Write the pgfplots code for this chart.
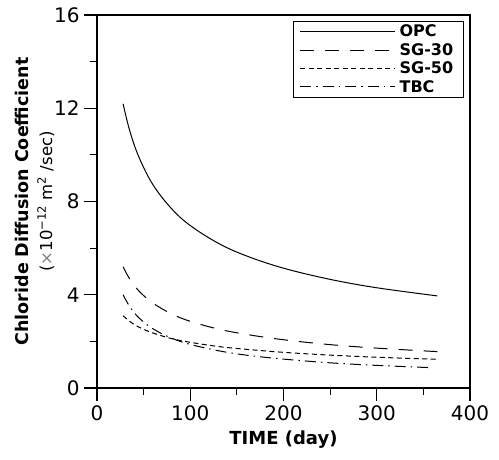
\documentclass[border=0pt]{standalone}
\usepackage{pgfplots}
\pgfplotsset{compat=1.18}
\usepackage{fontspec}
\setmainfont{DejaVu Sans}
\begin{document}
\begin{tikzpicture}
\begin{axis}[
    scale only axis,
    width=373bp, height=373bp,
    xmin=0, xmax=400,
    ymin=0, ymax=16,
    xtick={0,100,200,300,400},
    ytick={0,4,8,12,16},
    minor tick num=1,
    xtick pos=bottom, ytick pos=left,
    tick align=outside,
    major tick length=13bp,
    minor tick length=7bp,
    every tick/.style={black, line width=1.2pt},
    axis line style={line width=1.2pt},
    /pgf/number format/assume math mode=true,
    tick label style={font=\fontsize{20bp}{24bp}\selectfont},
    yticklabel style={xshift=-1bp},
    xticklabel style={yshift=-1bp},
    xlabel={\textbf{TIME (day)}},
    xlabel style={font=\fontsize{18bp}{21bp}\selectfont, yshift=-3bp},
    ylabel={{\fontsize{17.5bp}{20bp}\selectfont\textbf{Chloride Diffusion Coefficient}}\\[7bp]{\fontsize{16.5bp}{18bp}\selectfont(\textcolor{gray}{×}10\textsuperscript{−12} m\textsuperscript{2} /sec)}},
    ylabel style={align=center, yshift=-7bp},
    legend cell align=left,
    legend style={font=\bfseries\fontsize{16bp}{18bp}\selectfont, draw=black, line width=1pt,
        at={(0.983,0.985)}, anchor=north east, inner xsep=6bp, inner ysep=2bp, row sep=1bp,
        nodes={inner xsep=4bp, inner ysep=2bp}},
    legend image code/.code={\draw[#1, line width=1pt] (0bp,0bp) -- (95bp,0bp);},
    every axis plot/.append style={smooth, tension=0.6},
]
\addplot[black, line width=1pt] coordinates {
    (28,12.19)(35,11.05)(45,9.90)(60,8.72)(80,7.69)(100,6.97)(130,6.21)
    (160,5.67)(200,5.14)(250,4.66)(300,4.30)(365,3.95)
};
\addlegendentry{OPC}
\addplot[black, line width=1pt, dash pattern=on 14bp off 11bp] coordinates {
    (28,5.20)(35,4.68)(45,4.16)(60,3.64)(80,3.18)(100,2.86)(130,2.53)
    (160,2.30)(200,2.07)(250,1.86)(300,1.71)(365,1.56)
};
\addlegendentry{SG-30}
\addplot[black, line width=1pt, dash pattern=on 5bp off 3.5bp] coordinates {
    (28,3.10)(35,2.86)(45,2.61)(60,2.36)(80,2.12)(100,1.96)(130,1.78)
    (160,1.66)(200,1.53)(250,1.41)(300,1.32)(365,1.23)
};
\addlegendentry{SG-50}
\addplot[black, line width=1pt, dash pattern=on 11bp off 5bp on 1.5bp off 5bp] coordinates {
    (28,4.00)(35,3.50)(45,3.01)(60,2.54)(80,2.14)(100,1.87)(130,1.60)
    (160,1.41)(200,1.24)(250,1.08)(300,0.97)(360,0.87)
};
\addlegendentry{TBC}
\end{axis}
\path (-97bp,-72bp) rectangle (402bp,388bp);
\end{tikzpicture}
\end{document}
